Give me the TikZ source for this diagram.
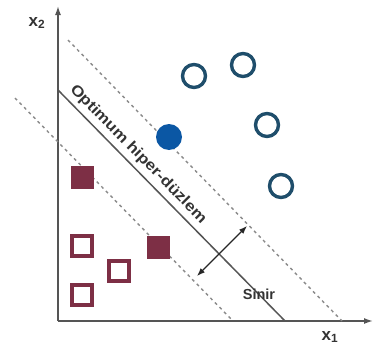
\documentclass[tikz,border=0pt]{standalone}
\usepackage{fontspec}
\setmainfont{Liberation Sans}
\usepackage{xcolor}
\usetikzlibrary{arrows.meta}

\definecolor{ringblue}{HTML}{1F4E6B}
\definecolor{dotblue}{HTML}{0B57A4}
\definecolor{boxred}{HTML}{7D2F45}
\definecolor{axisgray}{HTML}{555555}
\definecolor{dashgray}{HTML}{8A8A8A}

\begin{document}
\begin{tikzpicture}[x=1pt, y=-1pt,
    ring/.style={circle, draw=ringblue, line width=3.4pt, minimum size=23pt, inner sep=0pt, fill=white},
    dot/.style={circle, fill=dotblue, minimum size=26pt, inner sep=0pt},
    openbox/.style={rectangle, draw=boxred, line width=3.2pt, minimum size=20pt, inner sep=0pt, fill=white},
    fullbox/.style={rectangle, fill=boxred, minimum size=23pt, inner sep=0pt},
    margin/.style={dashgray, line width=1.4pt, dash pattern=on 3pt off 3.5pt},
    lbl/.style={font=\bfseries, text=black!80}]
    \useasboundingbox (0,0) rectangle (373,351);

    % Axes
    \coordinate (O) at (58,321);
    \coordinate (ytop) at (58,6);
    \coordinate (xend) at (373,321);
    \draw[axisgray, line width=1.5pt, -{Latex[length=9pt, width=6pt]}] (O) -- (ytop);
    \draw[axisgray, line width=1.5pt, -{Latex[length=9pt, width=6pt]}] (O) -- (xend);
    \node[lbl, font=\fontsize{17}{17}\bfseries] (xtwo) at (37,23) {x\textsubscript{2}};
    \node[lbl, font=\fontsize{17}{17}\bfseries] (xone) at (330,337) {x\textsubscript{1}};

    % Margins
    \coordinate (upA) at (68,40);
    \coordinate (upB) at (342,321);
    \coordinate (loA) at (15,98);
    \coordinate (loB) at (233,321);
    \draw[margin] (upA) -- (upB);
    \draw[margin] (loA) -- (loB);

    % Hyperplane
    \coordinate (hpA) at (58,90);
    \coordinate (hpB) at (285,321);
    \draw[axisgray, line width=1.5pt] (hpA) -- (hpB)
        node[lbl, sloped, above=1pt, pos=0.315, font=\fontsize{15}{15}\bfseries, xscale=1.15] (hplabel) {Optimum hiper-düzlem};

    % Width arrow
    \coordinate (wA) at (197,276);
    \coordinate (wB) at (247,226);
    \draw[black!85, line width=1.3pt, {Latex[length=8pt, width=6pt]}-{Latex[length=8pt, width=6pt]}] (wA) -- (wB);
    \node[lbl, font=\fontsize{14.5}{14.5}\bfseries] (sinir) at (259,294) {Sinir};

    % Circles
    \node[ring] (c1) at (194,76) {};
    \node[ring] (c2) at (243,65) {};
    \node[ring] (c3) at (267,125) {};
    \node[ring] (c4) at (281,186) {};
    \node[dot] (c5) at (169,137) {};

    % Squares
    \node[fullbox] (s1) at (82,177) {};
    \node[fullbox] (s2) at (158,247) {};
    \node[openbox] (s3) at (82,246) {};
    \node[openbox] (s4) at (119,271) {};
    \node[openbox] (s5) at (82,295) {};

\end{tikzpicture}
\end{document}
